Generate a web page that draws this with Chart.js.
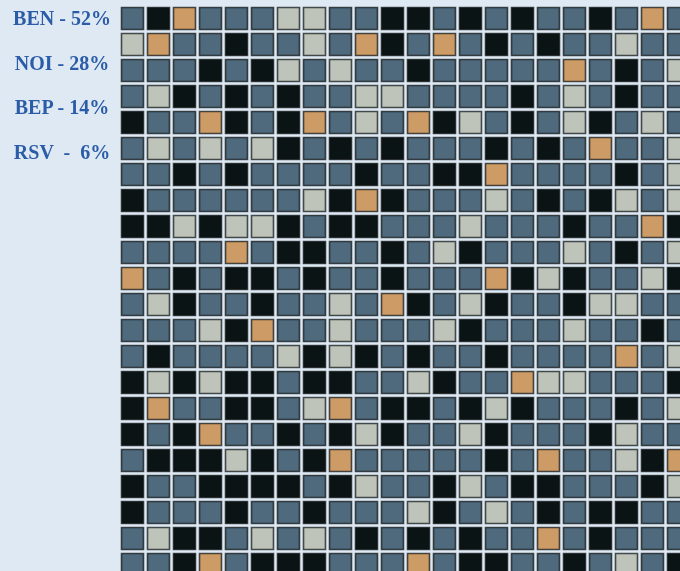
<!DOCTYPE html>
<html lang="en">
<head>
  <meta charset="UTF-8">
  <title>Waffle grid</title>
  <script src="https://cdn.jsdelivr.net/npm/chart.js"></script>
  <style>
    html, body { margin: 0; padding: 0; }
    body { background: #dfe9f3; width: 680px; height: 571px; overflow: hidden; position: relative; }
    #grafico { position: absolute; left: 0; top: 0; }
    .rotulos { position: absolute; left: 0; top: 0; width: 124px; }
    .rotulo {
      position: absolute; left: 0; width: 124px; text-align: center; white-space: pre;
      font-family: "Liberation Serif", serif; font-weight: bold; font-size: 20px;
      color: #2b5ca8; line-height: 20px;
    }
  </style>
</head>
<body>
  <canvas id="grafico" width="680" height="571"></canvas>
  <div class="rotulos" id="rotulos"></div>

  <script>
    // categorias e percentuais da legenda
    const categorias = ['BEN', 'NOI', 'BEP', 'RSV'];
    const percentuais = [52, 28, 14, 6];
    const codigos = ['S', 'K', 'L', 'T'];
    const cores = ['#4e6a7c', '#0b1415', '#bec4b9', '#cd9c66'];

    // grade: S = BEN, K = NOI, L = BEP, T = RSV
    const grade = [
      'SKTSSSLLSSKKSKSKSSKSTS',
      'LTSSKSSLSTKSTSKSKSSLSS',
      'SSSKSKLSLSSKSSSSSTSKSL',
      'SLKSKSKSSLLSSSSKSLSKSS',
      'KSSTKSKTSLSTKLSKSLKSLS',
      'SLSLSLKSKSKSSSKSKSTSSL',
      'SSKSKSSSSKSSKKTSSSSKSL',
      'KSSSSSSLKTKSSSLSKSKLSL',
      'KKLKLLKSKKSSSLSSSKSSTK',
      'SSSSTSKKSSKSLKSSSLSKSL',
      'TSKSKKSKSSKSSSTKLKSSLK',
      'SLKSSKSSLSTKSLKSSKLLSS',
      'SSSLKTSSLSSSLKSSSLSSKS',
      'SKSSSSLKLKSKSSKSSSSTSL',
      'KLKLKKSKKSSLKSSTLLSSSK',
      'KTSSKKSLTSKKSKLKSSSKSL',
      'KSKTSSKSKLKSSLKSSSKLSS',
      'SKKKLKSKTSSSSSKSTSSLKT',
      'KSSKKKKSKLSSKLSKKSSSKL',
      'KSSSKSSKSSSLKSLSKSKKSS',
      'SLKKSLSLSKSKSKSSTSKSSS',
      'SSKTSKKKSSSTSKKSSKSLSK'
    ];

    document.getElementById('rotulos').innerHTML = categorias.map((c, i) => {
      const txt = percentuais[i] < 10
        ? c + '  -  ' + percentuais[i] + '%'
        : c + ' - ' + percentuais[i] + '%';
      return `<div class="rotulo" style="top:${8 + i * 44.7}px">${txt}</div>`;
    }).join('');

    const datasets = categorias.map((c, i) => {
      const pontos = [];
      grade.forEach((linha, r) => {
        for (let col = 0; col < linha.length; col++) {
          if (linha[col] === codigos[i]) pontos.push({ x: col, y: r });
        }
      });
      return {
        label: c,
        data: pontos,
        backgroundColor: cores[i],
        borderColor: 'rgba(12, 16, 18, 0.72)',
        borderWidth: 1.6,
        pointStyle: 'rect',
        pointRadius: 11 / Math.SQRT1_2,
        pointHoverRadius: 11 / Math.SQRT1_2
      };
    });

    new Chart(document.getElementById('grafico'), {
      type: 'scatter',
      data: { datasets },
      options: {
        responsive: false,
        animation: false,
        events: [],
        layout: { padding: 0, autoPadding: false },
        plugins: { legend: { display: false }, tooltip: { enabled: false } },
        scales: {
          x: { type: 'linear', display: false, min: -132.5 / 26, max: -132.5 / 26 + 680 / 26 },
          y: { type: 'linear', display: false, reverse: true, min: -18.5 / 26, max: -18.5 / 26 + 571 / 26 }
        }
      }
    });
  </script>
</body>
</html>
